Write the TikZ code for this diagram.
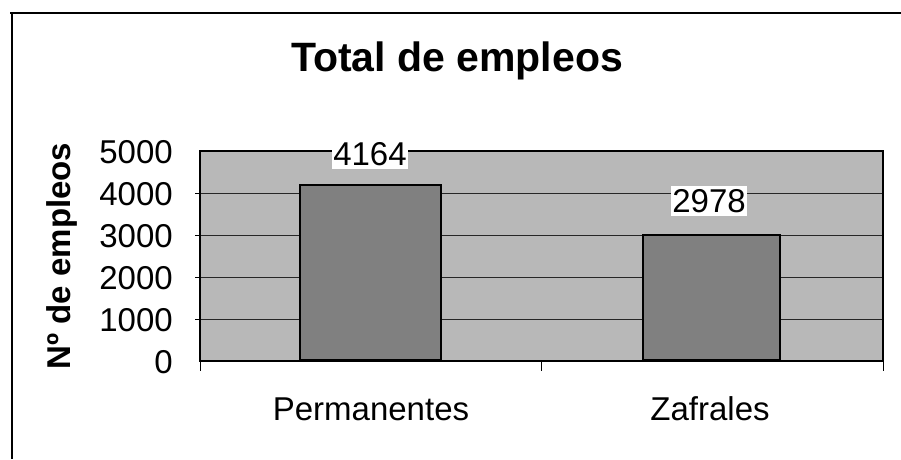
\documentclass[tikz,border=0pt]{standalone}
\usepackage{fontspec}
\setmainfont{Liberation Sans}
\begin{document}
\begin{tikzpicture}[x=1pt,y=-1pt,
  grid/.style={draw=black!85, line width=0.9pt},
  barbox/.style={fill=black!50, draw=black, line width=2pt, inner sep=0pt, anchor=south},
  ticklab/.style={font=\fontsize{33}{35}\selectfont, anchor=east, inner sep=0pt},
  catlab/.style={font=\fontsize{33}{35}\selectfont, inner sep=0pt, anchor=base},
  datalab/.style={font=\fontsize{33}{35}\selectfont, fill=white, inner xsep=1pt, inner ysep=3pt},
  frame/.style={draw=black, line width=1.8pt}]
\useasboundingbox (0,0) rectangle (901,459);
% outer chart frame (cropped)
\draw[frame] (10,13) -- (901,13);
\draw[frame] (12,13) -- (12,459);
% title
\node[font=\bfseries\fontsize{41}{44}\selectfont, anchor=base, inner sep=0pt] (title) at (457,71) {Total de empleos};
% plot area
\coordinate (pa1) at (200,151);
\coordinate (pa2) at (883,361);
\fill[black!28] (pa1) rectangle (pa2);
% gridlines
\foreach \v/\y in {1/319,2/277,3/235,4/193}{
  \coordinate (gl\v) at (200,\y);
  \coordinate (gr\v) at (883,\y);
  \draw[grid] (gl\v) -- (gr\v);
  \draw[line width=0.9pt] (gl\v) -- ++(-5,0);
}
\draw[draw=black, line width=1.2pt] (pa1) rectangle (pa2);
% y tick labels
\foreach \v/\y in {0/362,1000/320,2000/278,3000/236,4000/194,5000/152}{
  \node[ticklab] (t\v) at (173,\y) {\v};
}
% x ticks
\coordinate (xt0) at (200,361);
\coordinate (xt1) at (541,361);
\coordinate (xt2) at (883,361);
\foreach \i in {0,1,2}{ \draw[line width=1pt] (xt\i) -- ++(0,10); }
% bars
\node[barbox, minimum width=141pt, minimum height=174.9pt] (b1) at (370.5,361) {};
\node[barbox, minimum width=137pt, minimum height=125.1pt] (b2) at (711.5,361) {};
% data labels
\node[datalab] (d1) at (370,154) {4164};
\node[datalab] (d2) at (709,201) {2978};
% category labels
\node[catlab] (c1) at (371,420) {Permanentes};
\node[catlab] (c2) at (710,420) {Zafrales};
% y axis title
\node[font=\bfseries\fontsize{33}{35}\selectfont, rotate=90] (ylab) at (62,256) {Nº de empleos};
\end{tikzpicture}
\end{document}
